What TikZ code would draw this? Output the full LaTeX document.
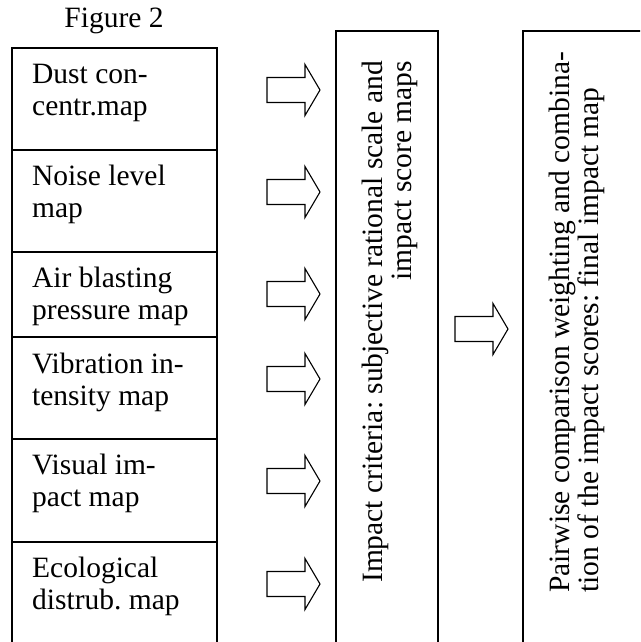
\documentclass[tikz,border=0pt]{standalone}
\usepackage{fontspec}
\setmainfont{Liberation Serif}
\frenchspacing
\tikzset{
  boxline/.style={line width=1.6pt},
  fatarrow/.style={line width=1.1pt, line join=miter},
  maptext/.style={anchor=base west, inner sep=0pt, align=left, font=\fontsize{29.5}{32}\selectfont},
  sidetext/.style={rotate=90, anchor=base west, inner sep=0pt, font=\fontsize{29.5}{28.5}\selectfont}
}
\begin{document}
\begin{tikzpicture}[x=1pt, y=-1pt]
\useasboundingbox (0,0) rectangle (640,642);
\clip (0,0) rectangle (640,642);
\node[anchor=base, inner sep=0pt, font=\fontsize{29.5}{32}\selectfont] (title) at (114,28) {Figure 2};
\draw[boxline] (12,48) rectangle (217,660);
\draw[boxline] (12,150)--(217,150);
\draw[boxline] (12,252)--(217,252);
\draw[boxline] (12,337)--(217,337);
\draw[boxline] (12,439)--(217,439);
\draw[boxline] (12,542)--(217,542);
\node[maptext] (dust) at (32,115) {Dust con-\\centr.map};
\node[maptext] (noise) at (32,217) {Noise level\\map};
\node[maptext] (blast) at (32,319) {Air blasting\\pressure map};
\node[maptext] (vibr) at (32,405) {Vibration in-\\tensity map};
\node[maptext] (visual) at (32,506) {Visual im-\\pact map};
\node[maptext] (ecol) at (32,609) {Ecological\\distrub. map};
\draw[fatarrow, shift={(267,90)}] (0,-12.5)--(38,-12.5)--(38,-25.5)--(53,0)--(38,25.5)--(38,12.5)--(0,12.5)--cycle;
\draw[fatarrow, shift={(267,192)}] (0,-12.5)--(38,-12.5)--(38,-25.5)--(53,0)--(38,25.5)--(38,12.5)--(0,12.5)--cycle;
\draw[fatarrow, shift={(267,294)}] (0,-12.5)--(38,-12.5)--(38,-25.5)--(53,0)--(38,25.5)--(38,12.5)--(0,12.5)--cycle;
\draw[fatarrow, shift={(267,379)}] (0,-12.5)--(38,-12.5)--(38,-25.5)--(53,0)--(38,25.5)--(38,12.5)--(0,12.5)--cycle;
\draw[fatarrow, shift={(267,481)}] (0,-12.5)--(38,-12.5)--(38,-25.5)--(53,0)--(38,25.5)--(38,12.5)--(0,12.5)--cycle;
\draw[fatarrow, shift={(267,584)}] (0,-12.5)--(38,-12.5)--(38,-25.5)--(53,0)--(38,25.5)--(38,12.5)--(0,12.5)--cycle;
\draw[boxline] (336,31) rectangle (438,660);
\node[sidetext, align=right] (criteria) at (411,583) {Impact criteria: subjective rational scale and\\impact score maps};
\draw[fatarrow, shift={(455,329)}] (0,-12.5)--(38,-12.5)--(38,-25.5)--(53,0)--(38,25.5)--(38,12.5)--(0,12.5)--cycle;
\draw[boxline] (523,31) rectangle (680,660);
\node[sidetext, align=left] (pairwise) at (598,593) {Pairwise comparison weighting and combina-\\tion of the impact scores: final impact map};
\end{tikzpicture}
\end{document}
